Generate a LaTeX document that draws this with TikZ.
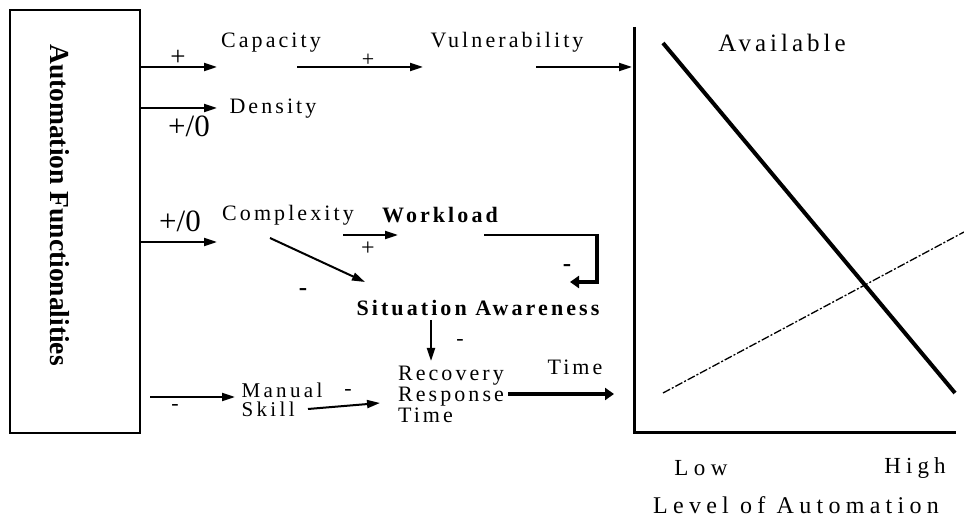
\documentclass[tikz,border=0pt]{standalone}
\usepackage{fontspec}
\setmainfont{Liberation Serif}
\usetikzlibrary{arrows.meta,positioning}
\tikzstyle{lbl}=[inner sep=0pt, font=\fontsize{22}{24}\selectfont\addfontfeature{LetterSpace=14}]
\tikzstyle{blbl}=[inner sep=0pt, font=\fontsize{22}{24}\selectfont\bfseries\addfontfeature{LetterSpace=14}]
\tikzstyle{sgn}=[inner sep=0pt, font=\fontsize{22}{24}\selectfont]
\tikzstyle{bsgn}=[inner sep=0pt, font=\fontsize{25}{27}\selectfont\bfseries]
\tikzstyle{arr}=[-{Triangle[length=13pt,width=8pt]}, line width=2pt]
\tikzstyle{fat}=[-{Triangle[length=9pt,width=12pt]}, line width=4pt]

\begin{document}
\begin{tikzpicture}[x=1pt,y=-1pt]
	\useasboundingbox (0,0) rectangle (964,521);
	% left box
	\node[draw, line width=1.5pt, minimum width=130pt, minimum height=423pt, inner sep=0pt] (box) at (75,221.5) {};
	\node[rotate=-90, inner sep=0pt, font=\fontsize{27.5}{30}\selectfont\bfseries] (boxname) at (60,205) {Automation Functionalities};
	% factors
	\node[lbl] (cap) at (271,43) {Capacity};
	\node[lbl] (vul) at (507,42) {Vulnerability};
	\node[lbl] (den) at (273,109) {Density};
	\node[lbl] (cpx) at (288,215) {Complexity};
	\node[blbl] (wl) at (440,215) {Workload};
	\node[blbl] (sa) at (478,308) {Situation Awareness};
	\node[lbl, align=left, font=\fontsize{22}{21}\selectfont\addfontfeature{LetterSpace=14}] (rrt) at (451,394) {Recovery\\Response\\Time};
	\node[lbl, align=left, font=\fontsize{21}{19}\selectfont\addfontfeature{LetterSpace=16}] (man) at (282,400) {Manual\\Skill};
	\node[lbl] (time) at (575,367) {Time};
	% arrow ends
	\coordinate (capin) at (217,67);
	\coordinate (capout) at (297,67);
	\coordinate (vulin) at (423,67);
	\coordinate (vulout) at (536,67);
	\coordinate (axin) at (632,67);
	\coordinate (denin) at (217,108);
	\coordinate (cpxin) at (217,242);
	\coordinate (cpxout) at (270,238);
	\coordinate (sain) at (365,282);
	\coordinate (wlfrom) at (343,235);
	\coordinate (wlin) at (398,235);
	\coordinate (fbstart) at (484,235);
	\coordinate (fbcorner) at (597,235);
	\coordinate (fbend) at (570,282);
	\coordinate (saout) at (431,320);
	\coordinate (rrtin) at (431,361);
	\coordinate (manfrom) at (150,397);
	\coordinate (manin) at (235,397);
	\coordinate (manout) at (308,409);
	\coordinate (rrtleft) at (380,403);
	\coordinate (rrtout) at (508,394);
	\coordinate (timein) at (614,394);
	% connectors
	\draw[arr] (box.east |- capin) -- (capin);
	\draw[arr] (capout) -- (vulin);
	\draw[arr] (vulout) -- (axin);
	\draw[arr] (box.east |- denin) -- (denin);
	\draw[arr] (box.east |- cpxin) -- (cpxin);
	\draw[arr] (cpxout) -- (sain);
	\draw[arr] (wlfrom) -- (wlin);
	\draw[line width=2.5pt] (fbstart) -- (fbcorner);
	\draw[fat] (fbcorner) ++(0,-1) |- (fbend);
	\draw[arr] (saout) -- (rrtin);
	\draw[arr] (manfrom) -- (manin);
	\draw[arr] (manout) -- (rrtleft);
	\draw[fat] (rrtout) -- (timein);
	% signs
	\node[sgn, font=\fontsize{27}{29}\selectfont] (s1) at (178,58) {+};
	\node[sgn] (s2) at (368,60) {+};
	\node[sgn, font=\fontsize{31}{33}\selectfont] (s3) at (189,126) {+/0};
	\node[sgn, font=\fontsize{31}{33}\selectfont] (s4) at (180,221) {+/0};
	\node[sgn, font=\fontsize{24}{26}\selectfont] (s5) at (368,249) {+};
	\node[bsgn] (s6) at (567,268) {-};
	\node[bsgn] (s7) at (303,292) {-};
	\node[sgn] (s8) at (460,342) {-};
	\node[sgn] (s9) at (175,407) {-};
	\node[sgn] (s10) at (348,392) {-};
	% graph
	\coordinate (orig) at (634,432);
	\coordinate (ytop) at (634,27);
	\coordinate (xend) at (956,432);
	\coordinate (availA) at (663,43);
	\coordinate (availB) at (955,393);
	\coordinate (needA) at (663,393);
	\coordinate (needB) at (964,232);
	\draw[line width=3pt] (ytop) -- (orig) -- (xend);
	\draw[line width=4pt] (availA) -- (availB);
	\draw[line width=1.3pt, dash pattern=on 8pt off 2pt on 2pt off 2pt] (needA) -- (needB);
	\node[lbl, font=\fontsize{25}{27}\selectfont\addfontfeature{LetterSpace=16}] (avail) at (782,43) {Available};
	\node[lbl, font=\fontsize{23}{25}\selectfont\addfontfeature{LetterSpace=24}] (low) at (701,468) {Low};
	\node[lbl, font=\fontsize{23}{25}\selectfont\addfontfeature{LetterSpace=22}] (high) at (915,468) {High};
	\node[lbl, font=\fontsize{24}{26}\selectfont\addfontfeature{LetterSpace=22}] (level) at (796,505) {Level of Automation};
\end{tikzpicture}
\end{document}
